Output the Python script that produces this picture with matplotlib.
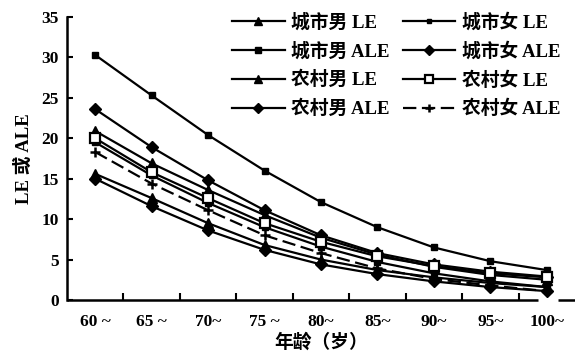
import matplotlib
matplotlib.use("Agg")
import matplotlib.pyplot as plt

plt.rcParams["font.family"] = ["Liberation Serif", "Noto Sans CJK SC"]
plt.rcParams["font.weight"] = "bold"

ages = ["60 ~", "65 ~", "70~", "75 ~", "80~", "85~", "90~", "95~", "100~"]

urban_m_le = [20.9, 16.9, 13.6, 10.5, 7.7, 5.6, 4.1, 3.1, 2.5]
urban_f_le = [30.3, 25.3, 20.4, 16.0, 12.1, 9.0, 6.5, 4.8, 3.7]
urban_m_ale = [19.5, 15.4, 12.0, 9.0, 6.6, 4.7, 3.3, 2.3, 1.6]
urban_f_ale = [23.6, 18.9, 14.8, 11.1, 8.0, 5.8, 4.4, 3.5, 2.9]
rural_m_le = [15.6, 12.6, 9.5, 6.8, 5.0, 3.7, 2.8, 2.1, 1.6]
rural_f_le = [20.0, 15.8, 12.6, 9.5, 7.2, 5.4, 4.2, 3.3, 2.8]
rural_m_ale = [15.0, 11.6, 8.6, 6.2, 4.4, 3.2, 2.3, 1.6, 1.1]
rural_f_ale = [18.3, 14.4, 11.1, 8.0, 5.8, 3.9, 2.6, 1.8, 1.1]

x = list(range(len(ages)))

fig = plt.figure(figsize=(5.75, 3.58), dpi=100)
ax = fig.add_axes([67 / 575, 1 - 300 / 358, 508 / 575, 283 / 358])

K = "black"
lw = 1.6
ax.plot(x, urban_m_le, color=K, lw=lw, marker="^", ms=7, label="城市男 LE")
ax.plot(x, urban_m_ale, color=K, lw=lw, marker="s", ms=5, label="城市男 ALE")
ax.plot(x, rural_m_le, color=K, lw=lw, marker="^", ms=7, label="农村男 LE")
ax.plot(x, rural_m_ale, color=K, lw=lw, marker="D", ms=6, label="农村男 ALE")
ax.plot(x, urban_f_le, color=K, lw=lw, marker="s", ms=4, label="城市女 LE")
ax.plot(x, urban_f_ale, color=K, lw=lw, marker="D", ms=6, label="城市女 ALE")
ax.plot(x, rural_f_le, color=K, lw=lw, marker="s", ms=6.5, mfc="white", mew=1.6,
        label="农村女 LE")
ax.plot(x, rural_f_ale, color=K, lw=lw, ls=(0, (6, 2.5)), marker="+", ms=7, mew=1.8,
        label="农村女 ALE")

ax.set_xlim(-0.5, 8.5)
ax.set_ylim(0, 35)
ax.set_yticks(range(0, 36, 5))
ax.set_yticklabels([str(v) for v in range(0, 36, 5)], fontweight="bold", fontsize=12.5)
ax.set_xticks(x)
ax.set_xticklabels(ages, fontweight="bold", fontsize=12.5)
ax.set_xticks([i + 0.5 for i in x[:-1]], minor=True)
ax.tick_params(axis="x", which="major", length=0, pad=10)
ax.tick_params(axis="x", which="minor", direction="in", length=5, width=1.5)
ax.tick_params(axis="y", direction="in", length=4, width=1.5, pad=6)

for side in ("top", "right", "bottom"):
    ax.spines[side].set_visible(False)
ax.spines["left"].set_linewidth(1.8)
# broken x axis near the last group
ax.hlines(0, -0.5, 7.85, color=K, lw=1.8, clip_on=False)
ax.hlines(0, 8.2, 8.5, color=K, lw=1.8, clip_on=False)

ax.set_ylabel("LE 或 ALE", fontsize=13.5, fontweight="bold", labelpad=6)
ax.set_xlabel("年龄（岁）", fontsize=13.5, fontweight="bold", labelpad=2)

leg = fig.legend(*ax.get_legend_handles_labels(), ncol=2, loc="upper left",
                 bbox_to_anchor=(232 / 575, 1 - 13 / 358), frameon=False,
                 fontsize=13.5, handlelength=2.8, columnspacing=0.7, labelspacing=0.56,
                 handletextpad=0.35, markerscale=0.85, borderpad=0, borderaxespad=0)
for t in leg.get_texts():
    t.set_fontweight("bold")

fig.savefig("out.png", dpi=100)
